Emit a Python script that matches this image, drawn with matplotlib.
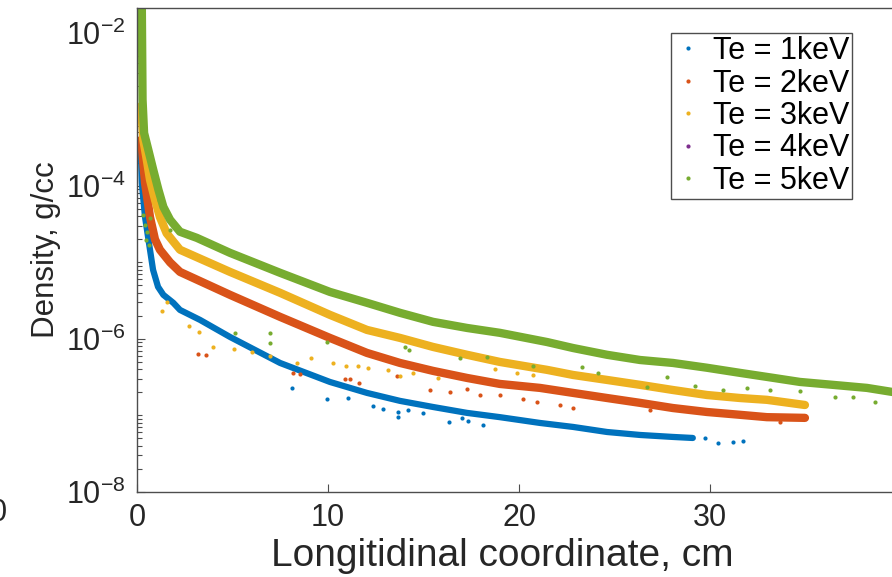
import numpy as np
import matplotlib
matplotlib.use('Agg')
import matplotlib.pyplot as plt
from matplotlib.ticker import FixedLocator, LogLocator, NullFormatter

plt.rcParams['font.family'] = ['Liberation Sans', 'DejaVu Sans']
plt.rcParams['mathtext.default'] = 'regular'
plt.rcParams['axes.unicode_minus'] = False

labels = ['Te = 1keV', 'Te = 2keV', 'Te = 3keV', 'Te = 4keV', 'Te = 5keV']
colors = ['#0072BD', '#D95319', '#EDB120', '#7E2F8E', '#77AC30']

# main band of each series (longitudinal coordinate cm, density g/cc)
te1_x = [0.20, 0.25, 0.42, 0.68, 0.84, 1.10, 1.38, 1.90, 2.25, 3.30, 4.87, 7.49,
         10.10, 12.04, 13.77, 15.50, 17.28, 19.0, 21.1, 22.83, 24.61, 26.34,
         28.06, 29.1]
te1_y = [2.8e-4, 1.09e-4, 3.9e-5, 1.46e-5, 7.98e-6, 4.79e-6, 3.76e-6, 2.96e-6,
         2.39e-6, 1.77e-6, 1.06e-6, 4.85e-7, 2.74e-7, 1.97e-7, 1.55e-7, 1.29e-7,
         1.08e-7, 9.5e-8, 7.98e-8, 7.08e-8, 6.08e-8, 5.56e-8, 5.24e-8, 5.08e-8]

te2_x = [0.22, 0.42, 0.68, 0.94, 1.20, 1.73, 2.25, 4.87, 7.49, 10.10, 12.04,
         13.77, 15.50, 17.28, 19.0, 21.1, 22.83, 24.61, 26.34, 28.06, 29.84,
         31.57, 32.98, 34.97]
te2_y = [4.0e-4, 1.09e-4, 3.9e-5, 2.0e-5, 1.46e-5, 1.0e-5, 7.5e-6, 3.76e-6,
         1.94e-6, 1.03e-6, 6.56e-7, 4.85e-7, 3.82e-7, 3.09e-7, 2.58e-7, 2.29e-7,
         1.97e-7, 1.69e-7, 1.46e-7, 1.25e-7, 1.11e-7, 1.02e-7, 9.5e-8, 9.3e-8]

te3_x = [0.21, 0.33, 0.51, 0.68, 0.94, 1.20, 1.55, 2.25, 4.87, 7.49, 10.10,
         12.04, 13.77, 15.50, 17.28, 19.0, 21.47, 22.83, 24.61, 26.34, 28.06,
         29.84, 31.57, 32.98, 34.97]
te3_y = [1.1e-3, 4.0e-4, 2.2e-4, 1.2e-4, 6.6e-5, 3.9e-5, 2.4e-5, 1.46e-5, 7.5e-6,
         4.0e-6, 2.06e-6, 1.31e-6, 1.03e-6, 7.85e-7, 6.2e-7, 5.0e-7, 3.94e-7,
         3.38e-7, 2.91e-7, 2.51e-7, 2.15e-7, 1.85e-7, 1.69e-7, 1.60e-7, 1.37e-7]

te4_x = []
te4_y = []

te5_x = [0.25, 0.29, 0.37, 0.59, 0.85, 1.12, 1.38, 1.73, 2.25, 3.13, 4.87, 7.49,
         10.10, 12.04, 13.77, 15.50, 17.28, 19.0, 21.47, 22.83, 24.61, 26.34,
         28.06, 29.84, 31.57, 33.30, 34.71, 36.44, 38.22, 39.53, 40.0]
te5_y = [2.5e-2, 1.33e-3, 4.9e-4, 2.96e-4, 1.62e-4, 8.9e-5, 5.3e-5, 3.6e-5,
         2.51e-5, 2.09e-5, 1.33e-5, 7.3e-6, 4.11e-6, 2.96e-6, 2.19e-6, 1.67e-6,
         1.39e-6, 1.20e-6, 9.1e-7, 7.6e-7, 6.2e-7, 5.3e-7, 4.85e-7, 4.2e-7,
         3.6e-7, 3.1e-7, 2.74e-7, 2.51e-7, 2.29e-7, 2.03e-7, 2.0e-7]

# stray points off the bands
te1_ox = [8.12, 9.95, 11.05, 12.36, 12.88, 13.66, 13.66, 14.19, 14.97, 16.34,
          17.02, 17.33, 18.12, 29.74, 30.42, 31.20, 31.73]
te1_oy = [2.29e-7, 1.64e-7, 1.69e-7, 1.33e-7, 1.22e-7, 1.11e-7, 9.5e-8, 1.18e-7,
          1.08e-7, 8.2e-8, 9.3e-8, 8.5e-8, 7.5e-8, 5.1e-8, 4.38e-8, 4.5e-8, 4.64e-8]

te2_ox = [3.19, 3.61, 8.17, 8.53, 10.89, 11.15, 11.62, 13.61, 15.34, 16.39,
          17.28, 17.96, 19.0, 20.21, 20.94, 22.15, 22.83, 26.86, 33.66]
te2_oy = [6.37e-7, 6.18e-7, 3.6e-7, 3.48e-7, 3.0e-7, 3.0e-7, 2.66e-7, 3.28e-7,
          2.15e-7, 2.03e-7, 2.22e-7, 1.85e-7, 1.85e-7, 1.64e-7, 1.50e-7, 1.37e-7,
          1.25e-7, 1.18e-7, 8.2e-8]

te3_ox = [1.31, 1.57, 2.72, 3.25, 3.98, 5.08, 6.02, 6.96, 8.38, 9.11, 10.26,
          10.94, 11.57, 12.09, 13.14, 13.77, 14.45, 15.76, 18.74, 19.90, 20.73]
te3_oy = [2.32e-6, 3.05e-6, 1.48e-6, 1.24e-6, 7.85e-7, 7.4e-7, 6.76e-7, 6.0e-7,
          4.85e-7, 5.65e-7, 4.85e-7, 4.44e-7, 4.44e-7, 4.18e-7, 3.94e-7, 3.28e-7,
          3.6e-7, 3.09e-7, 4.06e-7, 3.6e-7, 3.38e-7]

te4_ox = []
te4_oy = []

te5_ox = [0.31, 0.42, 0.47, 0.52, 0.63, 0.68, 1.17, 1.73, 5.13, 6.96, 6.96, 9.95,
          14.03, 14.24, 16.91, 18.32, 20.73, 23.30, 24.14, 26.70, 27.75, 29.21,
          30.68, 31.94, 33.14, 34.71, 36.54, 37.49, 38.64]
te5_oy = [4.18e-5, 3.09e-5, 1.97e-5, 2.5e-5, 1.69e-5, 3.82e-5, 6.6e-5, 2.66e-5,
          1.2e-6, 1.2e-6, 8.9e-7, 9.1e-7, 7.85e-7, 7.18e-7, 5.65e-7, 5.87e-7,
          4.44e-7, 4.3e-7, 3.6e-7, 2.36e-7, 3.18e-7, 2.43e-7, 2.15e-7, 2.29e-7,
          2.15e-7, 2.09e-7, 1.75e-7, 1.72e-7, 1.50e-7]

bands = [(te1_x, te1_y), (te2_x, te2_y), (te3_x, te3_y), (te4_x, te4_y), (te5_x, te5_y)]
strays = [(te1_ox, te1_oy), (te2_ox, te2_oy), (te3_ox, te3_oy), (te4_ox, te4_oy),
          (te5_ox, te5_oy)]
band_lw = [4.5, 6.0, 6.0, 6.0, 6.0]

fig = plt.figure(figsize=(8.92, 5.77), dpi=100)
ax = fig.add_axes([0.1536, 0.1473, 0.8565, 0.8388])

for (bx, by), (ox, oy), lab, col, lw in zip(bands, strays, labels, colors, band_lw):
    ax.plot(bx, by, '-', color=col, lw=lw, solid_joinstyle='round',
            solid_capstyle='round')
    ax.plot(ox, oy, 'o', color=col, ms=3.0, mew=0, ls='none', label=lab)

ax.set_yscale('log')
ax.set_xlim(0, 40)
ax.set_ylim(1e-8, 2.1e-2)
ax.set_xticks([0, 10, 20, 30])
ax.yaxis.set_major_locator(FixedLocator([1e-8, 1e-6, 1e-4, 1e-2]))
ax.yaxis.set_minor_locator(LogLocator(base=10, subs=np.arange(1, 10), numticks=100))
ax.yaxis.set_minor_formatter(NullFormatter())

axis_col = '#4d4d4d'
for sp in ax.spines.values():
    sp.set_color(axis_col)
    sp.set_linewidth(1.0)
ax.tick_params(which='both', direction='in', colors=axis_col, labelcolor='#262626',
               top=False, right=True, width=0.8)
ax.tick_params(which='major', length=6, labelsize=22)
ax.tick_params(which='minor', length=3.5)
ax.tick_params(axis='y', which='major', pad=8)
ax.tick_params(axis='x', which='major', pad=8)

ax.set_xlabel('Longitidinal coordinate, cm', fontsize=28, color='#262626')
ax.set_ylabel('Density, g/cc', fontsize=22.5, color='#262626')
ax.xaxis.set_label_coords(0.478, -0.094)
ax.yaxis.set_label_coords(-0.100, 0.5)

leg = ax.legend(loc='upper right', bbox_to_anchor=(852 / 892, 1 - 33 / 577),
                bbox_transform=fig.transFigure, borderaxespad=0, fontsize=22,
                frameon=True, fancybox=False, framealpha=1, edgecolor=axis_col,
                handlelength=0.9, handletextpad=0.35, labelspacing=0.08,
                borderpad=0.1, markerscale=1.0)
leg.get_frame().set_linewidth(1.0)

# clipped tick label from a neighbouring panel at the left edge
fig.text(7 / 892, 1 - 513 / 577, '0', fontsize=22, color='#262626',
         ha='right', va='center')

fig.savefig('out.png', dpi=100)
